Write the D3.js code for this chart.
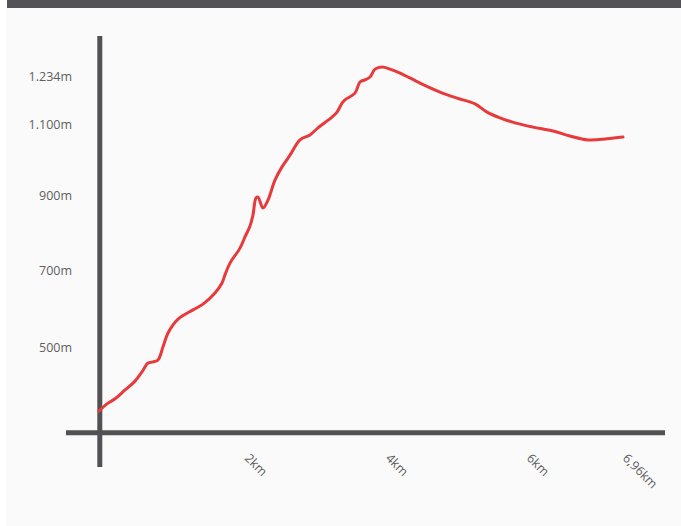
<!DOCTYPE html>
<html>
<head>
<meta charset="utf-8">
<script src="https://cdn.jsdelivr.net/npm/d3@7"></script>
<style>
  html, body { margin: 0; padding: 0; background: #ffffff; }
  svg { display: block; }
  .tick-label { font-family: 'Open Sans', sans-serif; font-size: 12.5px; fill: #606060; }
</style>
</head>
<body>
<svg width="681" height="526"></svg>
<script>
// distance along the track (km) and elevation (m)
const distanceKm = [0, 0.113, 0.227, 0.369, 0.511, 0.610, 0.695, 0.766, 0.837, 0.908, 0.979,
    1.121, 1.333, 1.475, 1.645, 1.745, 1.787, 1.858, 2.000, 2.071, 2.142, 2.184, 2.227, 2.255,
    2.326, 2.397, 2.496, 2.596, 2.709, 2.851, 2.993, 3.106, 3.305, 3.376, 3.447, 3.489, 3.631,
    3.702, 3.773, 3.844, 3.915, 4.014, 4.128, 4.270, 4.553, 4.837, 5.078, 5.333, 5.504, 5.688,
    5.901, 6.105, 6.295, 6.456, 6.627, 6.808, 6.96];
const elevationM = [336, 355, 368, 391, 414, 438, 461, 464, 469, 503, 539,
    575, 599, 614, 643, 669, 690, 721, 761, 791, 820, 849, 895, 897,
    868, 889, 945, 982, 1015, 1058, 1072, 1092, 1122, 1136, 1161, 1170, 1189,
    1220, 1226, 1234, 1256, 1262, 1256, 1245, 1217, 1192, 1175, 1159, 1136, 1120,
    1106, 1094, 1083, 1069, 1058, 1061, 1066];

const yTicks = [500, 700, 900, 1100, 1234];
const yTickLabels = ['500m', '700m', '900m', '1.100m', '1.234m'];
const xTicks = [2, 4, 6, 6.96];
const xTickLabels = ['2km', '4km', '6km', '6,96km'];

const svg = d3.select('svg');

// background panel + top bar
svg.append('rect').attr('x', 6).attr('y', 8).attr('width', 675).attr('height', 518).attr('fill', '#fafafa');
svg.append('rect').attr('x', 7).attr('y', 0).attr('width', 674).attr('height', 8).attr('fill', '#525257');

// scales (the original chart spacing is not quite even, so polylinear)
var x = d3.scaleLinear()
    .domain([0, 6, 6.96])
    .range([99, 522, 623]);

var y = d3.scaleLinear()
    .domain(yTicks)
    .range([348, 271, 196, 125, 77]);

// axes
svg.append('line')
    .attr('x1', 99.8).attr('x2', 99.8)
    .attr('y1', 36).attr('y2', 467)
    .attr('stroke', '#505055').attr('stroke-width', 5);

svg.append('line')
    .attr('x1', 66).attr('x2', 665)
    .attr('y1', 432.7).attr('y2', 432.7)
    .attr('stroke', '#505055').attr('stroke-width', 5);

// y labels
svg.selectAll('.ylab')
    .data(yTicks)
    .enter()
    .append('text')
    .attr('class', 'tick-label ylab')
    .attr('x', 72)
    .attr('y', d => y(d))
    .attr('dy', '0.35em')
    .attr('text-anchor', 'end')
    .text((d, i) => yTickLabels[i]);

// x labels, rotated
svg.selectAll('.xlab')
    .data(xTicks)
    .enter()
    .append('text')
    .attr('class', 'tick-label xlab')
    .attr('transform', d => 'translate(' + [x(d) + (d > 6 ? -1 : 4), 459] + ') rotate(45)')
    .attr('text-anchor', 'start')
    .text((d, i) => xTickLabels[i]);

// elevation line
var line = d3.line()
    .x((d, i) => x(distanceKm[i]))
    .y(d => y(d))
    .curve(d3.curveCatmullRom.alpha(0.5));

svg.append('path')
    .datum(elevationM)
    .attr('d', line)
    .attr('fill', 'none')
    .attr('stroke', '#e8393b')
    .attr('stroke-width', 3)
    .attr('stroke-linejoin', 'round')
    .attr('stroke-linecap', 'round');
</script>
</body>
</html>
